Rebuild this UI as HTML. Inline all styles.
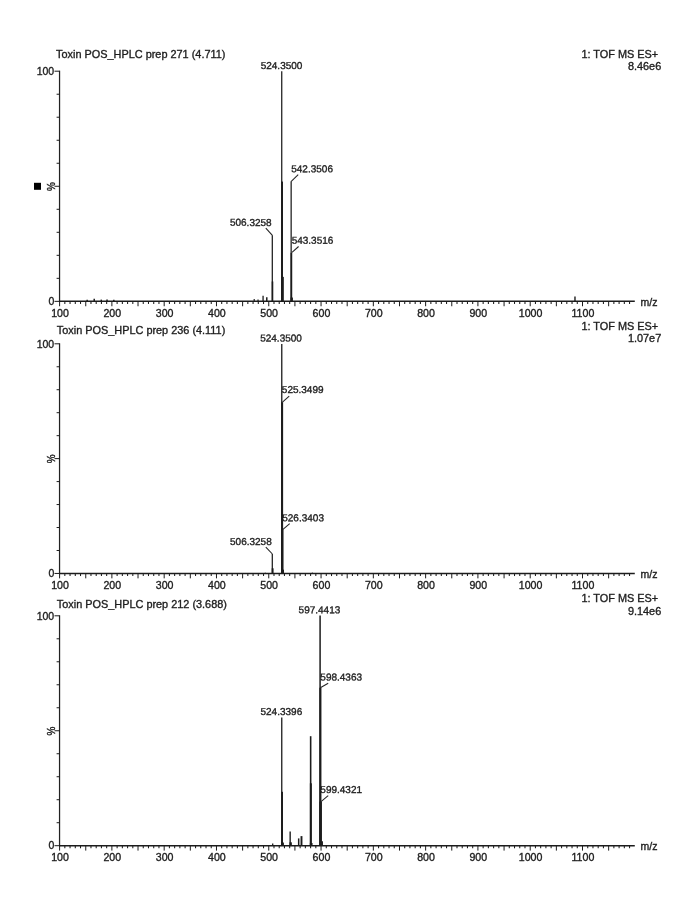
<!DOCTYPE html>
<html><head><meta charset="utf-8"><title>Mass spectra</title>
<style>
html,body{margin:0;padding:0;background:#fff;}
body{width:694px;height:902px;overflow:hidden;font-family:"Liberation Sans",sans-serif;}
svg{display:block;filter:grayscale(1)}
svg text{font-family:"Liberation Sans",sans-serif;fill:#1e1e1e;stroke:#1e1e1e;stroke-width:0.35;}
</style></head><body>
<svg width="694" height="902" viewBox="0 0 694 902">
<rect width="694" height="902" fill="#ffffff"/>
<g>
<text x="56.10" y="57.80" font-size="10.9" text-anchor="start" >Toxin POS_HPLC prep 271 (4.711)</text>
<text x="658.20" y="57.50" font-size="10.9" text-anchor="end" >1: TOF MS ES+</text>
<text x="661.20" y="70.20" font-size="10.9" text-anchor="end" >8.46e6</text>
<line x1="59.55" y1="70.70" x2="59.55" y2="301.95" stroke="#222" stroke-width="1.25"/>
<line x1="59.00" y1="301.35" x2="634.79" y2="301.35" stroke="#1c1c1c" stroke-width="1.5"/>
<line x1="54.50" y1="71.20" x2="59.60" y2="71.20" stroke="#1c1c1c" stroke-width="1.0"/>
<line x1="56.60" y1="94.22" x2="59.60" y2="94.22" stroke="#1c1c1c" stroke-width="1.0"/>
<line x1="56.60" y1="117.23" x2="59.60" y2="117.23" stroke="#1c1c1c" stroke-width="1.0"/>
<line x1="56.60" y1="140.25" x2="59.60" y2="140.25" stroke="#1c1c1c" stroke-width="1.0"/>
<line x1="56.60" y1="163.26" x2="59.60" y2="163.26" stroke="#1c1c1c" stroke-width="1.0"/>
<line x1="54.50" y1="186.28" x2="59.60" y2="186.28" stroke="#1c1c1c" stroke-width="1.0"/>
<line x1="56.60" y1="209.29" x2="59.60" y2="209.29" stroke="#1c1c1c" stroke-width="1.0"/>
<line x1="56.60" y1="232.31" x2="59.60" y2="232.31" stroke="#1c1c1c" stroke-width="1.0"/>
<line x1="56.60" y1="255.32" x2="59.60" y2="255.32" stroke="#1c1c1c" stroke-width="1.0"/>
<line x1="56.60" y1="278.34" x2="59.60" y2="278.34" stroke="#1c1c1c" stroke-width="1.0"/>
<line x1="54.50" y1="301.35" x2="59.60" y2="301.35" stroke="#1c1c1c" stroke-width="1.0"/>
<text x="54.20" y="74.95" font-size="10.5" text-anchor="end" >100</text>
<text x="54.30" y="304.55" font-size="10.5" text-anchor="end" >0</text>
<text font-size="10" text-anchor="middle" transform="translate(54.9,186.5) rotate(-90) scale(1,1.15)">%</text>
<line x1="59.60" y1="301.35" x2="59.60" y2="306.25" stroke="#1c1c1c" stroke-width="1.0"/>
<line x1="64.83" y1="301.35" x2="64.83" y2="303.95" stroke="#1c1c1c" stroke-width="1.05"/>
<line x1="70.06" y1="301.35" x2="70.06" y2="303.95" stroke="#1c1c1c" stroke-width="1.05"/>
<line x1="75.29" y1="301.35" x2="75.29" y2="303.95" stroke="#1c1c1c" stroke-width="1.05"/>
<line x1="80.52" y1="301.35" x2="80.52" y2="303.95" stroke="#1c1c1c" stroke-width="1.05"/>
<line x1="85.75" y1="301.35" x2="85.75" y2="306.25" stroke="#1c1c1c" stroke-width="1.0"/>
<line x1="90.97" y1="301.35" x2="90.97" y2="303.95" stroke="#1c1c1c" stroke-width="1.05"/>
<line x1="96.20" y1="301.35" x2="96.20" y2="303.95" stroke="#1c1c1c" stroke-width="1.05"/>
<line x1="101.43" y1="301.35" x2="101.43" y2="303.95" stroke="#1c1c1c" stroke-width="1.05"/>
<line x1="106.66" y1="301.35" x2="106.66" y2="303.95" stroke="#1c1c1c" stroke-width="1.05"/>
<line x1="111.89" y1="301.35" x2="111.89" y2="306.25" stroke="#1c1c1c" stroke-width="1.0"/>
<line x1="117.12" y1="301.35" x2="117.12" y2="303.95" stroke="#1c1c1c" stroke-width="1.05"/>
<line x1="122.35" y1="301.35" x2="122.35" y2="303.95" stroke="#1c1c1c" stroke-width="1.05"/>
<line x1="127.58" y1="301.35" x2="127.58" y2="303.95" stroke="#1c1c1c" stroke-width="1.05"/>
<line x1="132.81" y1="301.35" x2="132.81" y2="303.95" stroke="#1c1c1c" stroke-width="1.05"/>
<line x1="138.03" y1="301.35" x2="138.03" y2="306.25" stroke="#1c1c1c" stroke-width="1.0"/>
<line x1="143.26" y1="301.35" x2="143.26" y2="303.95" stroke="#1c1c1c" stroke-width="1.05"/>
<line x1="148.49" y1="301.35" x2="148.49" y2="303.95" stroke="#1c1c1c" stroke-width="1.05"/>
<line x1="153.72" y1="301.35" x2="153.72" y2="303.95" stroke="#1c1c1c" stroke-width="1.05"/>
<line x1="158.95" y1="301.35" x2="158.95" y2="303.95" stroke="#1c1c1c" stroke-width="1.05"/>
<line x1="164.18" y1="301.35" x2="164.18" y2="306.25" stroke="#1c1c1c" stroke-width="1.0"/>
<line x1="169.41" y1="301.35" x2="169.41" y2="303.95" stroke="#1c1c1c" stroke-width="1.05"/>
<line x1="174.64" y1="301.35" x2="174.64" y2="303.95" stroke="#1c1c1c" stroke-width="1.05"/>
<line x1="179.87" y1="301.35" x2="179.87" y2="303.95" stroke="#1c1c1c" stroke-width="1.05"/>
<line x1="185.10" y1="301.35" x2="185.10" y2="303.95" stroke="#1c1c1c" stroke-width="1.05"/>
<line x1="190.32" y1="301.35" x2="190.32" y2="306.25" stroke="#1c1c1c" stroke-width="1.0"/>
<line x1="195.55" y1="301.35" x2="195.55" y2="303.95" stroke="#1c1c1c" stroke-width="1.05"/>
<line x1="200.78" y1="301.35" x2="200.78" y2="303.95" stroke="#1c1c1c" stroke-width="1.05"/>
<line x1="206.01" y1="301.35" x2="206.01" y2="303.95" stroke="#1c1c1c" stroke-width="1.05"/>
<line x1="211.24" y1="301.35" x2="211.24" y2="303.95" stroke="#1c1c1c" stroke-width="1.05"/>
<line x1="216.47" y1="301.35" x2="216.47" y2="306.25" stroke="#1c1c1c" stroke-width="1.0"/>
<line x1="221.70" y1="301.35" x2="221.70" y2="303.95" stroke="#1c1c1c" stroke-width="1.05"/>
<line x1="226.93" y1="301.35" x2="226.93" y2="303.95" stroke="#1c1c1c" stroke-width="1.05"/>
<line x1="232.16" y1="301.35" x2="232.16" y2="303.95" stroke="#1c1c1c" stroke-width="1.05"/>
<line x1="237.39" y1="301.35" x2="237.39" y2="303.95" stroke="#1c1c1c" stroke-width="1.05"/>
<line x1="242.62" y1="301.35" x2="242.62" y2="306.25" stroke="#1c1c1c" stroke-width="1.0"/>
<line x1="247.84" y1="301.35" x2="247.84" y2="303.95" stroke="#1c1c1c" stroke-width="1.05"/>
<line x1="253.07" y1="301.35" x2="253.07" y2="303.95" stroke="#1c1c1c" stroke-width="1.05"/>
<line x1="258.30" y1="301.35" x2="258.30" y2="303.95" stroke="#1c1c1c" stroke-width="1.05"/>
<line x1="263.53" y1="301.35" x2="263.53" y2="303.95" stroke="#1c1c1c" stroke-width="1.05"/>
<line x1="268.76" y1="301.35" x2="268.76" y2="306.25" stroke="#1c1c1c" stroke-width="1.0"/>
<line x1="273.99" y1="301.35" x2="273.99" y2="303.95" stroke="#1c1c1c" stroke-width="1.05"/>
<line x1="279.22" y1="301.35" x2="279.22" y2="303.95" stroke="#1c1c1c" stroke-width="1.05"/>
<line x1="284.45" y1="301.35" x2="284.45" y2="303.95" stroke="#1c1c1c" stroke-width="1.05"/>
<line x1="289.68" y1="301.35" x2="289.68" y2="303.95" stroke="#1c1c1c" stroke-width="1.05"/>
<line x1="294.91" y1="301.35" x2="294.91" y2="306.25" stroke="#1c1c1c" stroke-width="1.0"/>
<line x1="300.13" y1="301.35" x2="300.13" y2="303.95" stroke="#1c1c1c" stroke-width="1.05"/>
<line x1="305.36" y1="301.35" x2="305.36" y2="303.95" stroke="#1c1c1c" stroke-width="1.05"/>
<line x1="310.59" y1="301.35" x2="310.59" y2="303.95" stroke="#1c1c1c" stroke-width="1.05"/>
<line x1="315.82" y1="301.35" x2="315.82" y2="303.95" stroke="#1c1c1c" stroke-width="1.05"/>
<line x1="321.05" y1="301.35" x2="321.05" y2="306.25" stroke="#1c1c1c" stroke-width="1.0"/>
<line x1="326.28" y1="301.35" x2="326.28" y2="303.95" stroke="#1c1c1c" stroke-width="1.05"/>
<line x1="331.51" y1="301.35" x2="331.51" y2="303.95" stroke="#1c1c1c" stroke-width="1.05"/>
<line x1="336.74" y1="301.35" x2="336.74" y2="303.95" stroke="#1c1c1c" stroke-width="1.05"/>
<line x1="341.97" y1="301.35" x2="341.97" y2="303.95" stroke="#1c1c1c" stroke-width="1.05"/>
<line x1="347.20" y1="301.35" x2="347.20" y2="306.25" stroke="#1c1c1c" stroke-width="1.0"/>
<line x1="352.42" y1="301.35" x2="352.42" y2="303.95" stroke="#1c1c1c" stroke-width="1.05"/>
<line x1="357.65" y1="301.35" x2="357.65" y2="303.95" stroke="#1c1c1c" stroke-width="1.05"/>
<line x1="362.88" y1="301.35" x2="362.88" y2="303.95" stroke="#1c1c1c" stroke-width="1.05"/>
<line x1="368.11" y1="301.35" x2="368.11" y2="303.95" stroke="#1c1c1c" stroke-width="1.05"/>
<line x1="373.34" y1="301.35" x2="373.34" y2="306.25" stroke="#1c1c1c" stroke-width="1.0"/>
<line x1="378.57" y1="301.35" x2="378.57" y2="303.95" stroke="#1c1c1c" stroke-width="1.05"/>
<line x1="383.80" y1="301.35" x2="383.80" y2="303.95" stroke="#1c1c1c" stroke-width="1.05"/>
<line x1="389.03" y1="301.35" x2="389.03" y2="303.95" stroke="#1c1c1c" stroke-width="1.05"/>
<line x1="394.26" y1="301.35" x2="394.26" y2="303.95" stroke="#1c1c1c" stroke-width="1.05"/>
<line x1="399.49" y1="301.35" x2="399.49" y2="306.25" stroke="#1c1c1c" stroke-width="1.0"/>
<line x1="404.71" y1="301.35" x2="404.71" y2="303.95" stroke="#1c1c1c" stroke-width="1.05"/>
<line x1="409.94" y1="301.35" x2="409.94" y2="303.95" stroke="#1c1c1c" stroke-width="1.05"/>
<line x1="415.17" y1="301.35" x2="415.17" y2="303.95" stroke="#1c1c1c" stroke-width="1.05"/>
<line x1="420.40" y1="301.35" x2="420.40" y2="303.95" stroke="#1c1c1c" stroke-width="1.05"/>
<line x1="425.63" y1="301.35" x2="425.63" y2="306.25" stroke="#1c1c1c" stroke-width="1.0"/>
<line x1="430.86" y1="301.35" x2="430.86" y2="303.95" stroke="#1c1c1c" stroke-width="1.05"/>
<line x1="436.09" y1="301.35" x2="436.09" y2="303.95" stroke="#1c1c1c" stroke-width="1.05"/>
<line x1="441.32" y1="301.35" x2="441.32" y2="303.95" stroke="#1c1c1c" stroke-width="1.05"/>
<line x1="446.55" y1="301.35" x2="446.55" y2="303.95" stroke="#1c1c1c" stroke-width="1.05"/>
<line x1="451.78" y1="301.35" x2="451.78" y2="306.25" stroke="#1c1c1c" stroke-width="1.0"/>
<line x1="457.00" y1="301.35" x2="457.00" y2="303.95" stroke="#1c1c1c" stroke-width="1.05"/>
<line x1="462.23" y1="301.35" x2="462.23" y2="303.95" stroke="#1c1c1c" stroke-width="1.05"/>
<line x1="467.46" y1="301.35" x2="467.46" y2="303.95" stroke="#1c1c1c" stroke-width="1.05"/>
<line x1="472.69" y1="301.35" x2="472.69" y2="303.95" stroke="#1c1c1c" stroke-width="1.05"/>
<line x1="477.92" y1="301.35" x2="477.92" y2="306.25" stroke="#1c1c1c" stroke-width="1.0"/>
<line x1="483.15" y1="301.35" x2="483.15" y2="303.95" stroke="#1c1c1c" stroke-width="1.05"/>
<line x1="488.38" y1="301.35" x2="488.38" y2="303.95" stroke="#1c1c1c" stroke-width="1.05"/>
<line x1="493.61" y1="301.35" x2="493.61" y2="303.95" stroke="#1c1c1c" stroke-width="1.05"/>
<line x1="498.84" y1="301.35" x2="498.84" y2="303.95" stroke="#1c1c1c" stroke-width="1.05"/>
<line x1="504.07" y1="301.35" x2="504.07" y2="306.25" stroke="#1c1c1c" stroke-width="1.0"/>
<line x1="509.29" y1="301.35" x2="509.29" y2="303.95" stroke="#1c1c1c" stroke-width="1.05"/>
<line x1="514.52" y1="301.35" x2="514.52" y2="303.95" stroke="#1c1c1c" stroke-width="1.05"/>
<line x1="519.75" y1="301.35" x2="519.75" y2="303.95" stroke="#1c1c1c" stroke-width="1.05"/>
<line x1="524.98" y1="301.35" x2="524.98" y2="303.95" stroke="#1c1c1c" stroke-width="1.05"/>
<line x1="530.21" y1="301.35" x2="530.21" y2="306.25" stroke="#1c1c1c" stroke-width="1.0"/>
<line x1="535.44" y1="301.35" x2="535.44" y2="303.95" stroke="#1c1c1c" stroke-width="1.05"/>
<line x1="540.67" y1="301.35" x2="540.67" y2="303.95" stroke="#1c1c1c" stroke-width="1.05"/>
<line x1="545.90" y1="301.35" x2="545.90" y2="303.95" stroke="#1c1c1c" stroke-width="1.05"/>
<line x1="551.13" y1="301.35" x2="551.13" y2="303.95" stroke="#1c1c1c" stroke-width="1.05"/>
<line x1="556.36" y1="301.35" x2="556.36" y2="306.25" stroke="#1c1c1c" stroke-width="1.0"/>
<line x1="561.58" y1="301.35" x2="561.58" y2="303.95" stroke="#1c1c1c" stroke-width="1.05"/>
<line x1="566.81" y1="301.35" x2="566.81" y2="303.95" stroke="#1c1c1c" stroke-width="1.05"/>
<line x1="572.04" y1="301.35" x2="572.04" y2="303.95" stroke="#1c1c1c" stroke-width="1.05"/>
<line x1="577.27" y1="301.35" x2="577.27" y2="303.95" stroke="#1c1c1c" stroke-width="1.05"/>
<line x1="582.50" y1="301.35" x2="582.50" y2="306.25" stroke="#1c1c1c" stroke-width="1.0"/>
<line x1="587.73" y1="301.35" x2="587.73" y2="303.95" stroke="#1c1c1c" stroke-width="1.05"/>
<line x1="592.96" y1="301.35" x2="592.96" y2="303.95" stroke="#1c1c1c" stroke-width="1.05"/>
<line x1="598.19" y1="301.35" x2="598.19" y2="303.95" stroke="#1c1c1c" stroke-width="1.05"/>
<line x1="603.42" y1="301.35" x2="603.42" y2="303.95" stroke="#1c1c1c" stroke-width="1.05"/>
<line x1="608.65" y1="301.35" x2="608.65" y2="306.25" stroke="#1c1c1c" stroke-width="1.0"/>
<line x1="613.87" y1="301.35" x2="613.87" y2="303.95" stroke="#1c1c1c" stroke-width="1.05"/>
<line x1="619.10" y1="301.35" x2="619.10" y2="303.95" stroke="#1c1c1c" stroke-width="1.05"/>
<line x1="624.33" y1="301.35" x2="624.33" y2="303.95" stroke="#1c1c1c" stroke-width="1.05"/>
<line x1="629.56" y1="301.35" x2="629.56" y2="303.95" stroke="#1c1c1c" stroke-width="1.05"/>
<text x="60.00" y="316.55" font-size="10.6" text-anchor="middle" >100</text>
<text x="112.29" y="316.55" font-size="10.6" text-anchor="middle" >200</text>
<text x="164.58" y="316.55" font-size="10.6" text-anchor="middle" >300</text>
<text x="216.87" y="316.55" font-size="10.6" text-anchor="middle" >400</text>
<text x="269.16" y="316.55" font-size="10.6" text-anchor="middle" >500</text>
<text x="321.45" y="316.55" font-size="10.6" text-anchor="middle" >600</text>
<text x="373.74" y="316.55" font-size="10.6" text-anchor="middle" >700</text>
<text x="426.03" y="316.55" font-size="10.6" text-anchor="middle" >800</text>
<text x="478.32" y="316.55" font-size="10.6" text-anchor="middle" >900</text>
<text x="530.61" y="316.55" font-size="10.6" text-anchor="middle" >1000</text>
<text x="582.90" y="316.55" font-size="10.6" text-anchor="middle" >1100</text>
<text x="640.60" y="305.75" font-size="10.5" text-anchor="start" >m/z</text>
<line x1="281.74" y1="71.30" x2="281.74" y2="301.35" stroke="#1c1c1c" stroke-width="1.25"/>
<line x1="282.07" y1="181.56" x2="282.07" y2="301.35" stroke="#1c1c1c" stroke-width="1.9"/>
<line x1="282.47" y1="276.88" x2="282.47" y2="301.35" stroke="#1c1c1c" stroke-width="2.7"/>
<line x1="291.15" y1="181.56" x2="291.15" y2="301.35" stroke="#1c1c1c" stroke-width="1.25"/>
<line x1="291.38" y1="252.76" x2="291.38" y2="301.35" stroke="#1c1c1c" stroke-width="1.7"/>
<line x1="291.73" y1="297.55" x2="291.73" y2="301.35" stroke="#1c1c1c" stroke-width="2.4"/>
<line x1="272.30" y1="235.54" x2="272.30" y2="301.35" stroke="#1c1c1c" stroke-width="1.25"/>
<line x1="272.48" y1="281.48" x2="272.48" y2="301.35" stroke="#1c1c1c" stroke-width="1.6"/>
<line x1="263.07" y1="295.72" x2="263.07" y2="301.35" stroke="#1c1c1c" stroke-width="1.3"/>
<line x1="266.78" y1="297.32" x2="266.78" y2="301.35" stroke="#1c1c1c" stroke-width="1.5"/>
<line x1="254.21" y1="298.93" x2="254.21" y2="301.35" stroke="#1c1c1c" stroke-width="1.2"/>
<line x1="258.03" y1="299.62" x2="258.03" y2="301.35" stroke="#1c1c1c" stroke-width="1.2"/>
<line x1="87.17" y1="299.85" x2="87.17" y2="301.35" stroke="#1c1c1c" stroke-width="1.5"/>
<line x1="94.22" y1="298.82" x2="94.22" y2="301.35" stroke="#1c1c1c" stroke-width="1.5"/>
<line x1="101.28" y1="299.62" x2="101.28" y2="301.35" stroke="#1c1c1c" stroke-width="1.5"/>
<line x1="107.04" y1="299.62" x2="107.04" y2="301.35" stroke="#1c1c1c" stroke-width="1.5"/>
<line x1="113.83" y1="299.85" x2="113.83" y2="301.35" stroke="#1c1c1c" stroke-width="1.5"/>
<line x1="574.98" y1="296.41" x2="574.98" y2="301.35" stroke="#1c1c1c" stroke-width="1.4"/>
<text x="281.55" y="68.90" font-size="10" text-anchor="middle" transform="rotate(0.03 281.7 69.2)">524.3500</text>
<text x="291.25" y="172.20" font-size="10" text-anchor="start" transform="rotate(0.03 291.4 172.5)">542.3506</text>
<text x="271.65" y="225.90" font-size="10" text-anchor="end" transform="rotate(0.03 271.8 226.2)">506.3258</text>
<text x="291.65" y="243.70" font-size="10" text-anchor="start" transform="rotate(0.03 291.8 244.0)">543.3516</text>
<line x1="291.00" y1="181.60" x2="298.20" y2="174.60" stroke="#222" stroke-width="1.05"/>
<line x1="272.60" y1="235.70" x2="265.80" y2="228.20" stroke="#222" stroke-width="1.05"/>
<line x1="292.00" y1="252.30" x2="298.60" y2="246.50" stroke="#222" stroke-width="1.05"/>
</g>
<g>
<text x="56.80" y="334.00" font-size="10.9" text-anchor="start" >Toxin POS_HPLC prep 236 (4.111)</text>
<text x="658.20" y="330.00" font-size="10.9" text-anchor="end" >1: TOF MS ES+</text>
<text x="661.20" y="341.80" font-size="10.9" text-anchor="end" >1.07e7</text>
<line x1="59.55" y1="343.30" x2="59.55" y2="574.05" stroke="#222" stroke-width="1.25"/>
<line x1="59.00" y1="573.45" x2="634.79" y2="573.45" stroke="#1c1c1c" stroke-width="1.5"/>
<line x1="54.50" y1="343.80" x2="59.60" y2="343.80" stroke="#1c1c1c" stroke-width="1.0"/>
<line x1="56.60" y1="366.76" x2="59.60" y2="366.76" stroke="#1c1c1c" stroke-width="1.0"/>
<line x1="56.60" y1="389.73" x2="59.60" y2="389.73" stroke="#1c1c1c" stroke-width="1.0"/>
<line x1="56.60" y1="412.70" x2="59.60" y2="412.70" stroke="#1c1c1c" stroke-width="1.0"/>
<line x1="56.60" y1="435.66" x2="59.60" y2="435.66" stroke="#1c1c1c" stroke-width="1.0"/>
<line x1="54.50" y1="458.62" x2="59.60" y2="458.62" stroke="#1c1c1c" stroke-width="1.0"/>
<line x1="56.60" y1="481.59" x2="59.60" y2="481.59" stroke="#1c1c1c" stroke-width="1.0"/>
<line x1="56.60" y1="504.56" x2="59.60" y2="504.56" stroke="#1c1c1c" stroke-width="1.0"/>
<line x1="56.60" y1="527.52" x2="59.60" y2="527.52" stroke="#1c1c1c" stroke-width="1.0"/>
<line x1="56.60" y1="550.49" x2="59.60" y2="550.49" stroke="#1c1c1c" stroke-width="1.0"/>
<line x1="54.50" y1="573.45" x2="59.60" y2="573.45" stroke="#1c1c1c" stroke-width="1.0"/>
<text x="54.20" y="347.55" font-size="10.5" text-anchor="end" >100</text>
<text x="54.30" y="576.65" font-size="10.5" text-anchor="end" >0</text>
<text font-size="10" text-anchor="middle" transform="translate(54.9,458.8) rotate(-90) scale(1,1.15)">%</text>
<line x1="59.60" y1="573.45" x2="59.60" y2="578.35" stroke="#1c1c1c" stroke-width="1.0"/>
<line x1="64.83" y1="573.45" x2="64.83" y2="576.05" stroke="#1c1c1c" stroke-width="1.05"/>
<line x1="70.06" y1="573.45" x2="70.06" y2="576.05" stroke="#1c1c1c" stroke-width="1.05"/>
<line x1="75.29" y1="573.45" x2="75.29" y2="576.05" stroke="#1c1c1c" stroke-width="1.05"/>
<line x1="80.52" y1="573.45" x2="80.52" y2="576.05" stroke="#1c1c1c" stroke-width="1.05"/>
<line x1="85.75" y1="573.45" x2="85.75" y2="578.35" stroke="#1c1c1c" stroke-width="1.0"/>
<line x1="90.97" y1="573.45" x2="90.97" y2="576.05" stroke="#1c1c1c" stroke-width="1.05"/>
<line x1="96.20" y1="573.45" x2="96.20" y2="576.05" stroke="#1c1c1c" stroke-width="1.05"/>
<line x1="101.43" y1="573.45" x2="101.43" y2="576.05" stroke="#1c1c1c" stroke-width="1.05"/>
<line x1="106.66" y1="573.45" x2="106.66" y2="576.05" stroke="#1c1c1c" stroke-width="1.05"/>
<line x1="111.89" y1="573.45" x2="111.89" y2="578.35" stroke="#1c1c1c" stroke-width="1.0"/>
<line x1="117.12" y1="573.45" x2="117.12" y2="576.05" stroke="#1c1c1c" stroke-width="1.05"/>
<line x1="122.35" y1="573.45" x2="122.35" y2="576.05" stroke="#1c1c1c" stroke-width="1.05"/>
<line x1="127.58" y1="573.45" x2="127.58" y2="576.05" stroke="#1c1c1c" stroke-width="1.05"/>
<line x1="132.81" y1="573.45" x2="132.81" y2="576.05" stroke="#1c1c1c" stroke-width="1.05"/>
<line x1="138.03" y1="573.45" x2="138.03" y2="578.35" stroke="#1c1c1c" stroke-width="1.0"/>
<line x1="143.26" y1="573.45" x2="143.26" y2="576.05" stroke="#1c1c1c" stroke-width="1.05"/>
<line x1="148.49" y1="573.45" x2="148.49" y2="576.05" stroke="#1c1c1c" stroke-width="1.05"/>
<line x1="153.72" y1="573.45" x2="153.72" y2="576.05" stroke="#1c1c1c" stroke-width="1.05"/>
<line x1="158.95" y1="573.45" x2="158.95" y2="576.05" stroke="#1c1c1c" stroke-width="1.05"/>
<line x1="164.18" y1="573.45" x2="164.18" y2="578.35" stroke="#1c1c1c" stroke-width="1.0"/>
<line x1="169.41" y1="573.45" x2="169.41" y2="576.05" stroke="#1c1c1c" stroke-width="1.05"/>
<line x1="174.64" y1="573.45" x2="174.64" y2="576.05" stroke="#1c1c1c" stroke-width="1.05"/>
<line x1="179.87" y1="573.45" x2="179.87" y2="576.05" stroke="#1c1c1c" stroke-width="1.05"/>
<line x1="185.10" y1="573.45" x2="185.10" y2="576.05" stroke="#1c1c1c" stroke-width="1.05"/>
<line x1="190.32" y1="573.45" x2="190.32" y2="578.35" stroke="#1c1c1c" stroke-width="1.0"/>
<line x1="195.55" y1="573.45" x2="195.55" y2="576.05" stroke="#1c1c1c" stroke-width="1.05"/>
<line x1="200.78" y1="573.45" x2="200.78" y2="576.05" stroke="#1c1c1c" stroke-width="1.05"/>
<line x1="206.01" y1="573.45" x2="206.01" y2="576.05" stroke="#1c1c1c" stroke-width="1.05"/>
<line x1="211.24" y1="573.45" x2="211.24" y2="576.05" stroke="#1c1c1c" stroke-width="1.05"/>
<line x1="216.47" y1="573.45" x2="216.47" y2="578.35" stroke="#1c1c1c" stroke-width="1.0"/>
<line x1="221.70" y1="573.45" x2="221.70" y2="576.05" stroke="#1c1c1c" stroke-width="1.05"/>
<line x1="226.93" y1="573.45" x2="226.93" y2="576.05" stroke="#1c1c1c" stroke-width="1.05"/>
<line x1="232.16" y1="573.45" x2="232.16" y2="576.05" stroke="#1c1c1c" stroke-width="1.05"/>
<line x1="237.39" y1="573.45" x2="237.39" y2="576.05" stroke="#1c1c1c" stroke-width="1.05"/>
<line x1="242.62" y1="573.45" x2="242.62" y2="578.35" stroke="#1c1c1c" stroke-width="1.0"/>
<line x1="247.84" y1="573.45" x2="247.84" y2="576.05" stroke="#1c1c1c" stroke-width="1.05"/>
<line x1="253.07" y1="573.45" x2="253.07" y2="576.05" stroke="#1c1c1c" stroke-width="1.05"/>
<line x1="258.30" y1="573.45" x2="258.30" y2="576.05" stroke="#1c1c1c" stroke-width="1.05"/>
<line x1="263.53" y1="573.45" x2="263.53" y2="576.05" stroke="#1c1c1c" stroke-width="1.05"/>
<line x1="268.76" y1="573.45" x2="268.76" y2="578.35" stroke="#1c1c1c" stroke-width="1.0"/>
<line x1="273.99" y1="573.45" x2="273.99" y2="576.05" stroke="#1c1c1c" stroke-width="1.05"/>
<line x1="279.22" y1="573.45" x2="279.22" y2="576.05" stroke="#1c1c1c" stroke-width="1.05"/>
<line x1="284.45" y1="573.45" x2="284.45" y2="576.05" stroke="#1c1c1c" stroke-width="1.05"/>
<line x1="289.68" y1="573.45" x2="289.68" y2="576.05" stroke="#1c1c1c" stroke-width="1.05"/>
<line x1="294.91" y1="573.45" x2="294.91" y2="578.35" stroke="#1c1c1c" stroke-width="1.0"/>
<line x1="300.13" y1="573.45" x2="300.13" y2="576.05" stroke="#1c1c1c" stroke-width="1.05"/>
<line x1="305.36" y1="573.45" x2="305.36" y2="576.05" stroke="#1c1c1c" stroke-width="1.05"/>
<line x1="310.59" y1="573.45" x2="310.59" y2="576.05" stroke="#1c1c1c" stroke-width="1.05"/>
<line x1="315.82" y1="573.45" x2="315.82" y2="576.05" stroke="#1c1c1c" stroke-width="1.05"/>
<line x1="321.05" y1="573.45" x2="321.05" y2="578.35" stroke="#1c1c1c" stroke-width="1.0"/>
<line x1="326.28" y1="573.45" x2="326.28" y2="576.05" stroke="#1c1c1c" stroke-width="1.05"/>
<line x1="331.51" y1="573.45" x2="331.51" y2="576.05" stroke="#1c1c1c" stroke-width="1.05"/>
<line x1="336.74" y1="573.45" x2="336.74" y2="576.05" stroke="#1c1c1c" stroke-width="1.05"/>
<line x1="341.97" y1="573.45" x2="341.97" y2="576.05" stroke="#1c1c1c" stroke-width="1.05"/>
<line x1="347.20" y1="573.45" x2="347.20" y2="578.35" stroke="#1c1c1c" stroke-width="1.0"/>
<line x1="352.42" y1="573.45" x2="352.42" y2="576.05" stroke="#1c1c1c" stroke-width="1.05"/>
<line x1="357.65" y1="573.45" x2="357.65" y2="576.05" stroke="#1c1c1c" stroke-width="1.05"/>
<line x1="362.88" y1="573.45" x2="362.88" y2="576.05" stroke="#1c1c1c" stroke-width="1.05"/>
<line x1="368.11" y1="573.45" x2="368.11" y2="576.05" stroke="#1c1c1c" stroke-width="1.05"/>
<line x1="373.34" y1="573.45" x2="373.34" y2="578.35" stroke="#1c1c1c" stroke-width="1.0"/>
<line x1="378.57" y1="573.45" x2="378.57" y2="576.05" stroke="#1c1c1c" stroke-width="1.05"/>
<line x1="383.80" y1="573.45" x2="383.80" y2="576.05" stroke="#1c1c1c" stroke-width="1.05"/>
<line x1="389.03" y1="573.45" x2="389.03" y2="576.05" stroke="#1c1c1c" stroke-width="1.05"/>
<line x1="394.26" y1="573.45" x2="394.26" y2="576.05" stroke="#1c1c1c" stroke-width="1.05"/>
<line x1="399.49" y1="573.45" x2="399.49" y2="578.35" stroke="#1c1c1c" stroke-width="1.0"/>
<line x1="404.71" y1="573.45" x2="404.71" y2="576.05" stroke="#1c1c1c" stroke-width="1.05"/>
<line x1="409.94" y1="573.45" x2="409.94" y2="576.05" stroke="#1c1c1c" stroke-width="1.05"/>
<line x1="415.17" y1="573.45" x2="415.17" y2="576.05" stroke="#1c1c1c" stroke-width="1.05"/>
<line x1="420.40" y1="573.45" x2="420.40" y2="576.05" stroke="#1c1c1c" stroke-width="1.05"/>
<line x1="425.63" y1="573.45" x2="425.63" y2="578.35" stroke="#1c1c1c" stroke-width="1.0"/>
<line x1="430.86" y1="573.45" x2="430.86" y2="576.05" stroke="#1c1c1c" stroke-width="1.05"/>
<line x1="436.09" y1="573.45" x2="436.09" y2="576.05" stroke="#1c1c1c" stroke-width="1.05"/>
<line x1="441.32" y1="573.45" x2="441.32" y2="576.05" stroke="#1c1c1c" stroke-width="1.05"/>
<line x1="446.55" y1="573.45" x2="446.55" y2="576.05" stroke="#1c1c1c" stroke-width="1.05"/>
<line x1="451.78" y1="573.45" x2="451.78" y2="578.35" stroke="#1c1c1c" stroke-width="1.0"/>
<line x1="457.00" y1="573.45" x2="457.00" y2="576.05" stroke="#1c1c1c" stroke-width="1.05"/>
<line x1="462.23" y1="573.45" x2="462.23" y2="576.05" stroke="#1c1c1c" stroke-width="1.05"/>
<line x1="467.46" y1="573.45" x2="467.46" y2="576.05" stroke="#1c1c1c" stroke-width="1.05"/>
<line x1="472.69" y1="573.45" x2="472.69" y2="576.05" stroke="#1c1c1c" stroke-width="1.05"/>
<line x1="477.92" y1="573.45" x2="477.92" y2="578.35" stroke="#1c1c1c" stroke-width="1.0"/>
<line x1="483.15" y1="573.45" x2="483.15" y2="576.05" stroke="#1c1c1c" stroke-width="1.05"/>
<line x1="488.38" y1="573.45" x2="488.38" y2="576.05" stroke="#1c1c1c" stroke-width="1.05"/>
<line x1="493.61" y1="573.45" x2="493.61" y2="576.05" stroke="#1c1c1c" stroke-width="1.05"/>
<line x1="498.84" y1="573.45" x2="498.84" y2="576.05" stroke="#1c1c1c" stroke-width="1.05"/>
<line x1="504.07" y1="573.45" x2="504.07" y2="578.35" stroke="#1c1c1c" stroke-width="1.0"/>
<line x1="509.29" y1="573.45" x2="509.29" y2="576.05" stroke="#1c1c1c" stroke-width="1.05"/>
<line x1="514.52" y1="573.45" x2="514.52" y2="576.05" stroke="#1c1c1c" stroke-width="1.05"/>
<line x1="519.75" y1="573.45" x2="519.75" y2="576.05" stroke="#1c1c1c" stroke-width="1.05"/>
<line x1="524.98" y1="573.45" x2="524.98" y2="576.05" stroke="#1c1c1c" stroke-width="1.05"/>
<line x1="530.21" y1="573.45" x2="530.21" y2="578.35" stroke="#1c1c1c" stroke-width="1.0"/>
<line x1="535.44" y1="573.45" x2="535.44" y2="576.05" stroke="#1c1c1c" stroke-width="1.05"/>
<line x1="540.67" y1="573.45" x2="540.67" y2="576.05" stroke="#1c1c1c" stroke-width="1.05"/>
<line x1="545.90" y1="573.45" x2="545.90" y2="576.05" stroke="#1c1c1c" stroke-width="1.05"/>
<line x1="551.13" y1="573.45" x2="551.13" y2="576.05" stroke="#1c1c1c" stroke-width="1.05"/>
<line x1="556.36" y1="573.45" x2="556.36" y2="578.35" stroke="#1c1c1c" stroke-width="1.0"/>
<line x1="561.58" y1="573.45" x2="561.58" y2="576.05" stroke="#1c1c1c" stroke-width="1.05"/>
<line x1="566.81" y1="573.45" x2="566.81" y2="576.05" stroke="#1c1c1c" stroke-width="1.05"/>
<line x1="572.04" y1="573.45" x2="572.04" y2="576.05" stroke="#1c1c1c" stroke-width="1.05"/>
<line x1="577.27" y1="573.45" x2="577.27" y2="576.05" stroke="#1c1c1c" stroke-width="1.05"/>
<line x1="582.50" y1="573.45" x2="582.50" y2="578.35" stroke="#1c1c1c" stroke-width="1.0"/>
<line x1="587.73" y1="573.45" x2="587.73" y2="576.05" stroke="#1c1c1c" stroke-width="1.05"/>
<line x1="592.96" y1="573.45" x2="592.96" y2="576.05" stroke="#1c1c1c" stroke-width="1.05"/>
<line x1="598.19" y1="573.45" x2="598.19" y2="576.05" stroke="#1c1c1c" stroke-width="1.05"/>
<line x1="603.42" y1="573.45" x2="603.42" y2="576.05" stroke="#1c1c1c" stroke-width="1.05"/>
<line x1="608.65" y1="573.45" x2="608.65" y2="578.35" stroke="#1c1c1c" stroke-width="1.0"/>
<line x1="613.87" y1="573.45" x2="613.87" y2="576.05" stroke="#1c1c1c" stroke-width="1.05"/>
<line x1="619.10" y1="573.45" x2="619.10" y2="576.05" stroke="#1c1c1c" stroke-width="1.05"/>
<line x1="624.33" y1="573.45" x2="624.33" y2="576.05" stroke="#1c1c1c" stroke-width="1.05"/>
<line x1="629.56" y1="573.45" x2="629.56" y2="576.05" stroke="#1c1c1c" stroke-width="1.05"/>
<text x="60.00" y="588.65" font-size="10.6" text-anchor="middle" >100</text>
<text x="112.29" y="588.65" font-size="10.6" text-anchor="middle" >200</text>
<text x="164.58" y="588.65" font-size="10.6" text-anchor="middle" >300</text>
<text x="216.87" y="588.65" font-size="10.6" text-anchor="middle" >400</text>
<text x="269.16" y="588.65" font-size="10.6" text-anchor="middle" >500</text>
<text x="321.45" y="588.65" font-size="10.6" text-anchor="middle" >600</text>
<text x="373.74" y="588.65" font-size="10.6" text-anchor="middle" >700</text>
<text x="426.03" y="588.65" font-size="10.6" text-anchor="middle" >800</text>
<text x="478.32" y="588.65" font-size="10.6" text-anchor="middle" >900</text>
<text x="530.61" y="588.65" font-size="10.6" text-anchor="middle" >1000</text>
<text x="582.90" y="588.65" font-size="10.6" text-anchor="middle" >1100</text>
<text x="640.60" y="577.85" font-size="10.5" text-anchor="start" >m/z</text>
<line x1="281.77" y1="344.10" x2="281.77" y2="573.45" stroke="#1c1c1c" stroke-width="1.3"/>
<line x1="282.12" y1="402.21" x2="282.12" y2="573.45" stroke="#1c1c1c" stroke-width="2.0"/>
<line x1="282.29" y1="529.24" x2="282.29" y2="573.45" stroke="#1c1c1c" stroke-width="2.35"/>
<line x1="282.57" y1="569.67" x2="282.57" y2="573.45" stroke="#1c1c1c" stroke-width="2.9"/>
<line x1="272.30" y1="554.05" x2="272.30" y2="573.45" stroke="#1c1c1c" stroke-width="1.25"/>
<line x1="272.63" y1="568.29" x2="272.63" y2="573.45" stroke="#1c1c1c" stroke-width="1.9"/>
<line x1="265.35" y1="572.65" x2="265.35" y2="573.45" stroke="#1c1c1c" stroke-width="1.2"/>
<line x1="312.41" y1="572.65" x2="312.41" y2="573.45" stroke="#1c1c1c" stroke-width="1.2"/>
<text x="281.05" y="341.50" font-size="10" text-anchor="middle" transform="rotate(0.03 281.2 341.8)">524.3500</text>
<text x="281.85" y="393.00" font-size="10" text-anchor="start" transform="rotate(0.03 282.0 393.3)">525.3499</text>
<text x="282.25" y="521.20" font-size="10" text-anchor="start" transform="rotate(0.03 282.4 521.5)">526.3403</text>
<text x="271.75" y="545.10" font-size="10" text-anchor="end" transform="rotate(0.03 271.9 545.4)">506.3258</text>
<line x1="282.20" y1="402.30" x2="289.20" y2="396.20" stroke="#222" stroke-width="1.05"/>
<line x1="283.00" y1="529.30" x2="289.70" y2="523.60" stroke="#222" stroke-width="1.05"/>
<line x1="272.40" y1="554.00" x2="265.80" y2="547.10" stroke="#222" stroke-width="1.05"/>
</g>
<g>
<text x="56.80" y="607.60" font-size="10.9" text-anchor="start" >Toxin POS_HPLC prep 212 (3.688)</text>
<text x="658.20" y="602.00" font-size="10.9" text-anchor="end" >1: TOF MS ES+</text>
<text x="661.20" y="614.50" font-size="10.9" text-anchor="end" >9.14e6</text>
<line x1="59.55" y1="615.30" x2="59.55" y2="846.30" stroke="#222" stroke-width="1.25"/>
<line x1="59.00" y1="845.70" x2="634.79" y2="845.70" stroke="#1c1c1c" stroke-width="1.5"/>
<line x1="54.50" y1="615.80" x2="59.60" y2="615.80" stroke="#1c1c1c" stroke-width="1.0"/>
<line x1="56.60" y1="638.79" x2="59.60" y2="638.79" stroke="#1c1c1c" stroke-width="1.0"/>
<line x1="56.60" y1="661.78" x2="59.60" y2="661.78" stroke="#1c1c1c" stroke-width="1.0"/>
<line x1="56.60" y1="684.77" x2="59.60" y2="684.77" stroke="#1c1c1c" stroke-width="1.0"/>
<line x1="56.60" y1="707.76" x2="59.60" y2="707.76" stroke="#1c1c1c" stroke-width="1.0"/>
<line x1="54.50" y1="730.75" x2="59.60" y2="730.75" stroke="#1c1c1c" stroke-width="1.0"/>
<line x1="56.60" y1="753.74" x2="59.60" y2="753.74" stroke="#1c1c1c" stroke-width="1.0"/>
<line x1="56.60" y1="776.73" x2="59.60" y2="776.73" stroke="#1c1c1c" stroke-width="1.0"/>
<line x1="56.60" y1="799.72" x2="59.60" y2="799.72" stroke="#1c1c1c" stroke-width="1.0"/>
<line x1="56.60" y1="822.71" x2="59.60" y2="822.71" stroke="#1c1c1c" stroke-width="1.0"/>
<line x1="54.50" y1="845.70" x2="59.60" y2="845.70" stroke="#1c1c1c" stroke-width="1.0"/>
<text x="54.20" y="619.55" font-size="10.5" text-anchor="end" >100</text>
<text x="54.30" y="848.90" font-size="10.5" text-anchor="end" >0</text>
<text font-size="10" text-anchor="middle" transform="translate(54.9,731.0) rotate(-90) scale(1,1.15)">%</text>
<line x1="59.60" y1="845.70" x2="59.60" y2="850.60" stroke="#1c1c1c" stroke-width="1.0"/>
<line x1="64.83" y1="845.70" x2="64.83" y2="848.30" stroke="#1c1c1c" stroke-width="1.05"/>
<line x1="70.06" y1="845.70" x2="70.06" y2="848.30" stroke="#1c1c1c" stroke-width="1.05"/>
<line x1="75.29" y1="845.70" x2="75.29" y2="848.30" stroke="#1c1c1c" stroke-width="1.05"/>
<line x1="80.52" y1="845.70" x2="80.52" y2="848.30" stroke="#1c1c1c" stroke-width="1.05"/>
<line x1="85.75" y1="845.70" x2="85.75" y2="850.60" stroke="#1c1c1c" stroke-width="1.0"/>
<line x1="90.97" y1="845.70" x2="90.97" y2="848.30" stroke="#1c1c1c" stroke-width="1.05"/>
<line x1="96.20" y1="845.70" x2="96.20" y2="848.30" stroke="#1c1c1c" stroke-width="1.05"/>
<line x1="101.43" y1="845.70" x2="101.43" y2="848.30" stroke="#1c1c1c" stroke-width="1.05"/>
<line x1="106.66" y1="845.70" x2="106.66" y2="848.30" stroke="#1c1c1c" stroke-width="1.05"/>
<line x1="111.89" y1="845.70" x2="111.89" y2="850.60" stroke="#1c1c1c" stroke-width="1.0"/>
<line x1="117.12" y1="845.70" x2="117.12" y2="848.30" stroke="#1c1c1c" stroke-width="1.05"/>
<line x1="122.35" y1="845.70" x2="122.35" y2="848.30" stroke="#1c1c1c" stroke-width="1.05"/>
<line x1="127.58" y1="845.70" x2="127.58" y2="848.30" stroke="#1c1c1c" stroke-width="1.05"/>
<line x1="132.81" y1="845.70" x2="132.81" y2="848.30" stroke="#1c1c1c" stroke-width="1.05"/>
<line x1="138.03" y1="845.70" x2="138.03" y2="850.60" stroke="#1c1c1c" stroke-width="1.0"/>
<line x1="143.26" y1="845.70" x2="143.26" y2="848.30" stroke="#1c1c1c" stroke-width="1.05"/>
<line x1="148.49" y1="845.70" x2="148.49" y2="848.30" stroke="#1c1c1c" stroke-width="1.05"/>
<line x1="153.72" y1="845.70" x2="153.72" y2="848.30" stroke="#1c1c1c" stroke-width="1.05"/>
<line x1="158.95" y1="845.70" x2="158.95" y2="848.30" stroke="#1c1c1c" stroke-width="1.05"/>
<line x1="164.18" y1="845.70" x2="164.18" y2="850.60" stroke="#1c1c1c" stroke-width="1.0"/>
<line x1="169.41" y1="845.70" x2="169.41" y2="848.30" stroke="#1c1c1c" stroke-width="1.05"/>
<line x1="174.64" y1="845.70" x2="174.64" y2="848.30" stroke="#1c1c1c" stroke-width="1.05"/>
<line x1="179.87" y1="845.70" x2="179.87" y2="848.30" stroke="#1c1c1c" stroke-width="1.05"/>
<line x1="185.10" y1="845.70" x2="185.10" y2="848.30" stroke="#1c1c1c" stroke-width="1.05"/>
<line x1="190.32" y1="845.70" x2="190.32" y2="850.60" stroke="#1c1c1c" stroke-width="1.0"/>
<line x1="195.55" y1="845.70" x2="195.55" y2="848.30" stroke="#1c1c1c" stroke-width="1.05"/>
<line x1="200.78" y1="845.70" x2="200.78" y2="848.30" stroke="#1c1c1c" stroke-width="1.05"/>
<line x1="206.01" y1="845.70" x2="206.01" y2="848.30" stroke="#1c1c1c" stroke-width="1.05"/>
<line x1="211.24" y1="845.70" x2="211.24" y2="848.30" stroke="#1c1c1c" stroke-width="1.05"/>
<line x1="216.47" y1="845.70" x2="216.47" y2="850.60" stroke="#1c1c1c" stroke-width="1.0"/>
<line x1="221.70" y1="845.70" x2="221.70" y2="848.30" stroke="#1c1c1c" stroke-width="1.05"/>
<line x1="226.93" y1="845.70" x2="226.93" y2="848.30" stroke="#1c1c1c" stroke-width="1.05"/>
<line x1="232.16" y1="845.70" x2="232.16" y2="848.30" stroke="#1c1c1c" stroke-width="1.05"/>
<line x1="237.39" y1="845.70" x2="237.39" y2="848.30" stroke="#1c1c1c" stroke-width="1.05"/>
<line x1="242.62" y1="845.70" x2="242.62" y2="850.60" stroke="#1c1c1c" stroke-width="1.0"/>
<line x1="247.84" y1="845.70" x2="247.84" y2="848.30" stroke="#1c1c1c" stroke-width="1.05"/>
<line x1="253.07" y1="845.70" x2="253.07" y2="848.30" stroke="#1c1c1c" stroke-width="1.05"/>
<line x1="258.30" y1="845.70" x2="258.30" y2="848.30" stroke="#1c1c1c" stroke-width="1.05"/>
<line x1="263.53" y1="845.70" x2="263.53" y2="848.30" stroke="#1c1c1c" stroke-width="1.05"/>
<line x1="268.76" y1="845.70" x2="268.76" y2="850.60" stroke="#1c1c1c" stroke-width="1.0"/>
<line x1="273.99" y1="845.70" x2="273.99" y2="848.30" stroke="#1c1c1c" stroke-width="1.05"/>
<line x1="279.22" y1="845.70" x2="279.22" y2="848.30" stroke="#1c1c1c" stroke-width="1.05"/>
<line x1="284.45" y1="845.70" x2="284.45" y2="848.30" stroke="#1c1c1c" stroke-width="1.05"/>
<line x1="289.68" y1="845.70" x2="289.68" y2="848.30" stroke="#1c1c1c" stroke-width="1.05"/>
<line x1="294.91" y1="845.70" x2="294.91" y2="850.60" stroke="#1c1c1c" stroke-width="1.0"/>
<line x1="300.13" y1="845.70" x2="300.13" y2="848.30" stroke="#1c1c1c" stroke-width="1.05"/>
<line x1="305.36" y1="845.70" x2="305.36" y2="848.30" stroke="#1c1c1c" stroke-width="1.05"/>
<line x1="310.59" y1="845.70" x2="310.59" y2="848.30" stroke="#1c1c1c" stroke-width="1.05"/>
<line x1="315.82" y1="845.70" x2="315.82" y2="848.30" stroke="#1c1c1c" stroke-width="1.05"/>
<line x1="321.05" y1="845.70" x2="321.05" y2="850.60" stroke="#1c1c1c" stroke-width="1.0"/>
<line x1="326.28" y1="845.70" x2="326.28" y2="848.30" stroke="#1c1c1c" stroke-width="1.05"/>
<line x1="331.51" y1="845.70" x2="331.51" y2="848.30" stroke="#1c1c1c" stroke-width="1.05"/>
<line x1="336.74" y1="845.70" x2="336.74" y2="848.30" stroke="#1c1c1c" stroke-width="1.05"/>
<line x1="341.97" y1="845.70" x2="341.97" y2="848.30" stroke="#1c1c1c" stroke-width="1.05"/>
<line x1="347.20" y1="845.70" x2="347.20" y2="850.60" stroke="#1c1c1c" stroke-width="1.0"/>
<line x1="352.42" y1="845.70" x2="352.42" y2="848.30" stroke="#1c1c1c" stroke-width="1.05"/>
<line x1="357.65" y1="845.70" x2="357.65" y2="848.30" stroke="#1c1c1c" stroke-width="1.05"/>
<line x1="362.88" y1="845.70" x2="362.88" y2="848.30" stroke="#1c1c1c" stroke-width="1.05"/>
<line x1="368.11" y1="845.70" x2="368.11" y2="848.30" stroke="#1c1c1c" stroke-width="1.05"/>
<line x1="373.34" y1="845.70" x2="373.34" y2="850.60" stroke="#1c1c1c" stroke-width="1.0"/>
<line x1="378.57" y1="845.70" x2="378.57" y2="848.30" stroke="#1c1c1c" stroke-width="1.05"/>
<line x1="383.80" y1="845.70" x2="383.80" y2="848.30" stroke="#1c1c1c" stroke-width="1.05"/>
<line x1="389.03" y1="845.70" x2="389.03" y2="848.30" stroke="#1c1c1c" stroke-width="1.05"/>
<line x1="394.26" y1="845.70" x2="394.26" y2="848.30" stroke="#1c1c1c" stroke-width="1.05"/>
<line x1="399.49" y1="845.70" x2="399.49" y2="850.60" stroke="#1c1c1c" stroke-width="1.0"/>
<line x1="404.71" y1="845.70" x2="404.71" y2="848.30" stroke="#1c1c1c" stroke-width="1.05"/>
<line x1="409.94" y1="845.70" x2="409.94" y2="848.30" stroke="#1c1c1c" stroke-width="1.05"/>
<line x1="415.17" y1="845.70" x2="415.17" y2="848.30" stroke="#1c1c1c" stroke-width="1.05"/>
<line x1="420.40" y1="845.70" x2="420.40" y2="848.30" stroke="#1c1c1c" stroke-width="1.05"/>
<line x1="425.63" y1="845.70" x2="425.63" y2="850.60" stroke="#1c1c1c" stroke-width="1.0"/>
<line x1="430.86" y1="845.70" x2="430.86" y2="848.30" stroke="#1c1c1c" stroke-width="1.05"/>
<line x1="436.09" y1="845.70" x2="436.09" y2="848.30" stroke="#1c1c1c" stroke-width="1.05"/>
<line x1="441.32" y1="845.70" x2="441.32" y2="848.30" stroke="#1c1c1c" stroke-width="1.05"/>
<line x1="446.55" y1="845.70" x2="446.55" y2="848.30" stroke="#1c1c1c" stroke-width="1.05"/>
<line x1="451.78" y1="845.70" x2="451.78" y2="850.60" stroke="#1c1c1c" stroke-width="1.0"/>
<line x1="457.00" y1="845.70" x2="457.00" y2="848.30" stroke="#1c1c1c" stroke-width="1.05"/>
<line x1="462.23" y1="845.70" x2="462.23" y2="848.30" stroke="#1c1c1c" stroke-width="1.05"/>
<line x1="467.46" y1="845.70" x2="467.46" y2="848.30" stroke="#1c1c1c" stroke-width="1.05"/>
<line x1="472.69" y1="845.70" x2="472.69" y2="848.30" stroke="#1c1c1c" stroke-width="1.05"/>
<line x1="477.92" y1="845.70" x2="477.92" y2="850.60" stroke="#1c1c1c" stroke-width="1.0"/>
<line x1="483.15" y1="845.70" x2="483.15" y2="848.30" stroke="#1c1c1c" stroke-width="1.05"/>
<line x1="488.38" y1="845.70" x2="488.38" y2="848.30" stroke="#1c1c1c" stroke-width="1.05"/>
<line x1="493.61" y1="845.70" x2="493.61" y2="848.30" stroke="#1c1c1c" stroke-width="1.05"/>
<line x1="498.84" y1="845.70" x2="498.84" y2="848.30" stroke="#1c1c1c" stroke-width="1.05"/>
<line x1="504.07" y1="845.70" x2="504.07" y2="850.60" stroke="#1c1c1c" stroke-width="1.0"/>
<line x1="509.29" y1="845.70" x2="509.29" y2="848.30" stroke="#1c1c1c" stroke-width="1.05"/>
<line x1="514.52" y1="845.70" x2="514.52" y2="848.30" stroke="#1c1c1c" stroke-width="1.05"/>
<line x1="519.75" y1="845.70" x2="519.75" y2="848.30" stroke="#1c1c1c" stroke-width="1.05"/>
<line x1="524.98" y1="845.70" x2="524.98" y2="848.30" stroke="#1c1c1c" stroke-width="1.05"/>
<line x1="530.21" y1="845.70" x2="530.21" y2="850.60" stroke="#1c1c1c" stroke-width="1.0"/>
<line x1="535.44" y1="845.70" x2="535.44" y2="848.30" stroke="#1c1c1c" stroke-width="1.05"/>
<line x1="540.67" y1="845.70" x2="540.67" y2="848.30" stroke="#1c1c1c" stroke-width="1.05"/>
<line x1="545.90" y1="845.70" x2="545.90" y2="848.30" stroke="#1c1c1c" stroke-width="1.05"/>
<line x1="551.13" y1="845.70" x2="551.13" y2="848.30" stroke="#1c1c1c" stroke-width="1.05"/>
<line x1="556.36" y1="845.70" x2="556.36" y2="850.60" stroke="#1c1c1c" stroke-width="1.0"/>
<line x1="561.58" y1="845.70" x2="561.58" y2="848.30" stroke="#1c1c1c" stroke-width="1.05"/>
<line x1="566.81" y1="845.70" x2="566.81" y2="848.30" stroke="#1c1c1c" stroke-width="1.05"/>
<line x1="572.04" y1="845.70" x2="572.04" y2="848.30" stroke="#1c1c1c" stroke-width="1.05"/>
<line x1="577.27" y1="845.70" x2="577.27" y2="848.30" stroke="#1c1c1c" stroke-width="1.05"/>
<line x1="582.50" y1="845.70" x2="582.50" y2="850.60" stroke="#1c1c1c" stroke-width="1.0"/>
<line x1="587.73" y1="845.70" x2="587.73" y2="848.30" stroke="#1c1c1c" stroke-width="1.05"/>
<line x1="592.96" y1="845.70" x2="592.96" y2="848.30" stroke="#1c1c1c" stroke-width="1.05"/>
<line x1="598.19" y1="845.70" x2="598.19" y2="848.30" stroke="#1c1c1c" stroke-width="1.05"/>
<line x1="603.42" y1="845.70" x2="603.42" y2="848.30" stroke="#1c1c1c" stroke-width="1.05"/>
<line x1="608.65" y1="845.70" x2="608.65" y2="850.60" stroke="#1c1c1c" stroke-width="1.0"/>
<line x1="613.87" y1="845.70" x2="613.87" y2="848.30" stroke="#1c1c1c" stroke-width="1.05"/>
<line x1="619.10" y1="845.70" x2="619.10" y2="848.30" stroke="#1c1c1c" stroke-width="1.05"/>
<line x1="624.33" y1="845.70" x2="624.33" y2="848.30" stroke="#1c1c1c" stroke-width="1.05"/>
<line x1="629.56" y1="845.70" x2="629.56" y2="848.30" stroke="#1c1c1c" stroke-width="1.05"/>
<text x="60.00" y="860.90" font-size="10.6" text-anchor="middle" >100</text>
<text x="112.29" y="860.90" font-size="10.6" text-anchor="middle" >200</text>
<text x="164.58" y="860.90" font-size="10.6" text-anchor="middle" >300</text>
<text x="216.87" y="860.90" font-size="10.6" text-anchor="middle" >400</text>
<text x="269.16" y="860.90" font-size="10.6" text-anchor="middle" >500</text>
<text x="321.45" y="860.90" font-size="10.6" text-anchor="middle" >600</text>
<text x="373.74" y="860.90" font-size="10.6" text-anchor="middle" >700</text>
<text x="426.03" y="860.90" font-size="10.6" text-anchor="middle" >800</text>
<text x="478.32" y="860.90" font-size="10.6" text-anchor="middle" >900</text>
<text x="530.61" y="860.90" font-size="10.6" text-anchor="middle" >1000</text>
<text x="582.90" y="860.90" font-size="10.6" text-anchor="middle" >1100</text>
<text x="640.60" y="850.10" font-size="10.5" text-anchor="start" >m/z</text>
<line x1="320.09" y1="615.60" x2="320.09" y2="845.70" stroke="#1c1c1c" stroke-width="1.5"/>
<line x1="320.39" y1="687.73" x2="320.39" y2="845.70" stroke="#1c1c1c" stroke-width="2.1"/>
<line x1="320.64" y1="801.66" x2="320.64" y2="845.70" stroke="#1c1c1c" stroke-width="2.6"/>
<line x1="281.76" y1="717.59" x2="281.76" y2="845.70" stroke="#1c1c1c" stroke-width="1.3"/>
<line x1="282.06" y1="791.78" x2="282.06" y2="845.70" stroke="#1c1c1c" stroke-width="1.9"/>
<line x1="282.51" y1="842.54" x2="282.51" y2="845.70" stroke="#1c1c1c" stroke-width="2.8"/>
<line x1="310.65" y1="736.19" x2="310.65" y2="845.70" stroke="#1c1c1c" stroke-width="1.6"/>
<line x1="310.85" y1="783.28" x2="310.85" y2="845.70" stroke="#1c1c1c" stroke-width="2.0"/>
<line x1="311.20" y1="843.00" x2="311.20" y2="845.70" stroke="#1c1c1c" stroke-width="2.7"/>
<line x1="290.16" y1="831.52" x2="290.16" y2="845.70" stroke="#1c1c1c" stroke-width="1.4"/>
<line x1="290.66" y1="842.31" x2="290.66" y2="845.70" stroke="#1c1c1c" stroke-width="2.4"/>
<line x1="298.68" y1="838.41" x2="298.68" y2="845.70" stroke="#1c1c1c" stroke-width="1.5"/>
<line x1="301.49" y1="836.11" x2="301.49" y2="845.70" stroke="#1c1c1c" stroke-width="1.9"/>
<line x1="272.70" y1="843.46" x2="272.70" y2="845.70" stroke="#1c1c1c" stroke-width="1.3"/>
<line x1="322.21" y1="841.17" x2="322.21" y2="845.70" stroke="#1c1c1c" stroke-width="1.5"/>
<text x="319.45" y="613.30" font-size="10" text-anchor="middle" transform="rotate(0.03 319.6 613.6)">597.4413</text>
<text x="320.35" y="680.40" font-size="10" text-anchor="start" transform="rotate(0.03 320.5 680.7)">598.4363</text>
<text x="281.35" y="715.10" font-size="10" text-anchor="middle" transform="rotate(0.03 281.5 715.4)">524.3396</text>
<text x="320.35" y="793.00" font-size="10" text-anchor="start" transform="rotate(0.03 320.5 793.3)">599.4321</text>
<line x1="320.30" y1="687.80" x2="328.20" y2="683.20" stroke="#222" stroke-width="1.05"/>
<line x1="321.00" y1="801.70" x2="328.20" y2="795.70" stroke="#222" stroke-width="1.05"/>
</g>
<rect x="34" y="182.8" width="7" height="7" fill="#000"/>
</svg>
</body></html>
